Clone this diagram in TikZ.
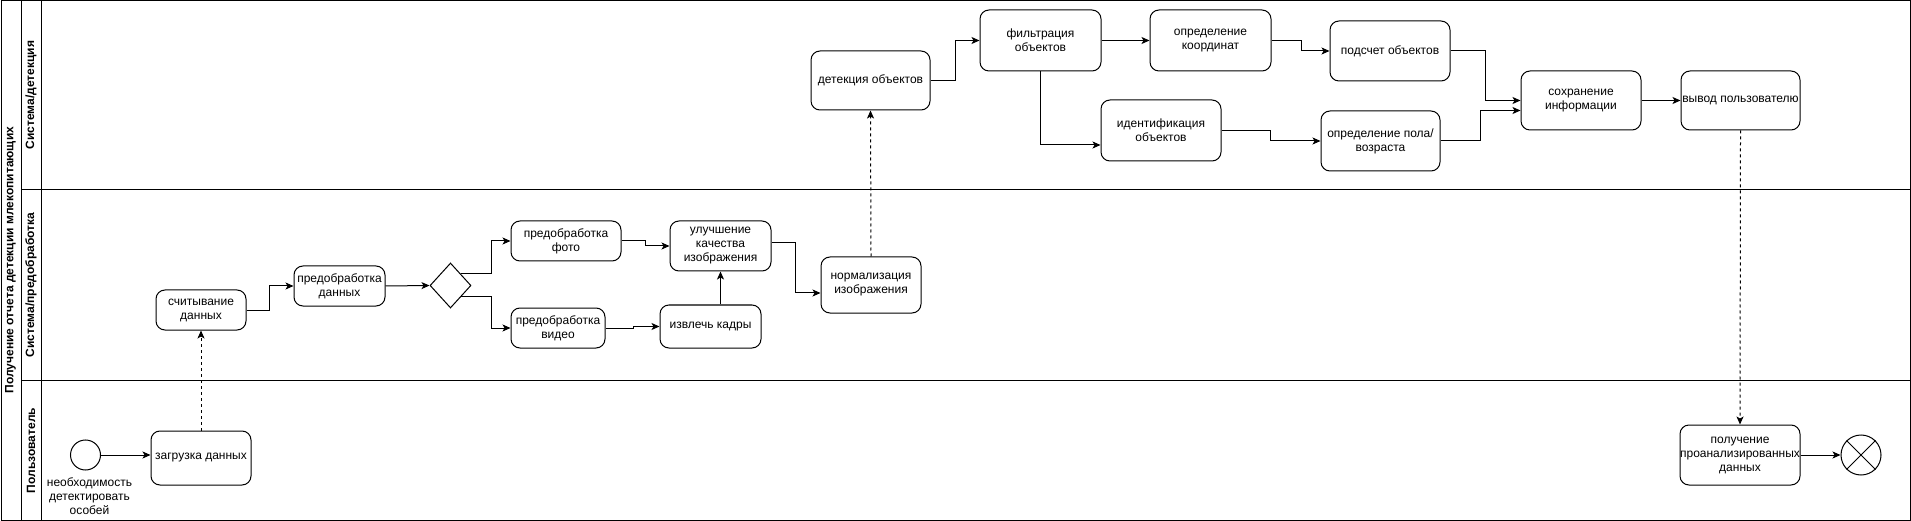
\documentclass[tikz,border=0pt]{standalone}
\usepackage{fontspec}
\setmainfont{Liberation Sans}
\usetikzlibrary{arrows.meta,shapes.geometric,calc}
\begin{document}
\begin{tikzpicture}[x=1pt,y=-1pt,
  every node/.style={font=\fontsize{12}{14}\selectfont},
  task/.style={draw,rounded corners=9pt,line width=1pt,align=center,inner sep=0pt},
  conn/.style={line width=1pt,-{Stealth[length=8pt,width=7pt,inset=2pt]}},
  msg/.style={conn,dash pattern=on 3pt off 3pt},
  frame/.style={line width=1pt},
  lanelbl/.style={rotate=90,font=\bfseries\fontsize{12}{14}\selectfont}]
\useasboundingbox (0,0) rectangle (1911,521);
% pool and lanes
\draw[frame] (1,1) rectangle (1910,520);
\draw[frame] (21,1) -- (21,520);
\draw[frame] (41,1) -- (41,520);
\draw[frame] (21,190) -- (1910,190);
\draw[frame] (21,380) -- (1910,380);
\node[lanelbl] (pool) at (10.5,260) {Получение отчета детекции млекопитающих};
\node[lanelbl] (lane1) at (31,95) {Система/детекция};
\node[lanelbl] (lane2) at (31,285) {Система/предобработка};
\node[lanelbl] (lane3) at (31,450.5) {Пользователь};
% user lane
\node[draw,circle,line width=1pt,minimum size=30pt,inner sep=0pt] (start) at (85.5,455) {};
\node[align=center] (startlbl) at (89.5,496) {необходимость\\детектировать\\особей};
\node[task,minimum width=100pt,minimum height=54pt] (load) at (201,458) {загрузка данных};
\node[task,minimum width=120pt,minimum height=60pt] (recv) at (1740,455) {получение\\проанализированных\\данных};
\node[draw,circle,line width=1pt,minimum size=40pt,inner sep=0pt] (end) at (1861,455) {};
\draw[line width=1pt] (end.north west) -- (end.south east);
\draw[line width=1pt] (end.north east) -- (end.south west);
% preprocessing lane
\node[task,minimum width=90pt,minimum height=40pt] (read) at (201,310) {считывание\\данных};
\node[task,minimum width=91pt,minimum height=40pt] (prep) at (339.5,286) {предобработка\\данных};
\node[draw,diamond,line width=1pt,minimum width=41pt,minimum height=45pt,inner sep=0pt] (gw) at (450.5,285.5) {};
\node[task,minimum width=110pt,minimum height=40pt] (photo) at (566,241) {предобработка\\фото};
\node[task,minimum width=94pt,minimum height=40pt] (video) at (558,328) {предобработка\\видео};
\node[task,minimum width=101pt,minimum height=43pt] (frames) at (710.5,326.5) {извлечь кадры};
\node[task,minimum width=101pt,minimum height=50pt] (enh) at (720.5,246) {улучшение\\качества\\изображения};
\node[task,minimum width=100pt,minimum height=56pt] (norm) at (871,285) {нормализация\\изображения};
% detection lane
\node[task,minimum width=119pt,minimum height=59pt] (det) at (870.5,80.5) {детекция объектов};
\node[task,minimum width=121pt,minimum height=61pt] (filt) at (1040.5,40.5) {фильтрация\\объектов};
\node[task,minimum width=121pt,minimum height=61pt] (coord) at (1210.5,40.5) {определение\\координат};
\node[task,minimum width=120pt,minimum height=60pt] (count) at (1390,51) {подсчет объектов};
\node[task,minimum width=120pt,minimum height=61pt] (ident) at (1161,130.5) {идентификация\\объектов};
\node[task,minimum width=119pt,minimum height=60pt] (sex) at (1380.5,141) {определение пола/\\возраста};
\node[task,minimum width=120pt,minimum height=59pt] (save) at (1581,100.5) {сохранение\\информации};
\node[task,minimum width=119pt,minimum height=59pt] (out) at (1740.5,100.5) {вывод пользователю};
% helper coordinates
\coordinate (gwNE) at ($(gw.north)!0.5!(gw.east)$);
\coordinate (gwSE) at ($(gw.south)!0.5!(gw.east)$);
\coordinate (enhOut) at ($(enh.east)+(0,-3)$);
\coordinate (normIn) at ($(norm.west)+(0,8)$);
\coordinate (identIn) at ($(ident.west)+(0,14.5)$);
\coordinate (saveIn2) at ($(save.west)+(0,10)$);
% connectors
\draw[conn] (start.east) -- (start.east -| load.west);
\draw[msg] (load.north) -- (read.south);
\draw[conn] (read.east) -- ++(23,0) |- (prep.west);
\draw[conn] (prep.east) -- (gw.west);
\draw[conn] (gwNE) -- ++(30,0) |- (photo.west);
\draw[conn] (gwSE) -- ++(30,0) |- (video.west);
\draw[conn] (video.east) -- ++(28,0) |- (frames.west);
\draw[conn] (photo.east) -- ++(24,0) |- (enh.west);
\draw[conn] (enh.south |- frames.north) -- (enh.south);
\draw[conn] (enhOut) -- ++(24,0) |- (normIn);
\draw[msg] (norm.north) -- (det.south);
\draw[conn] (det.east) -- ++(25,0) |- (filt.west);
\draw[conn] (filt.east) -- (coord.west);
\draw[conn] (filt.south) |- (identIn);
\draw[conn] (coord.east) -- ++(30,0) |- (count.west);
\draw[conn] (ident.east) -- ++(49,0) |- (sex.west);
\draw[conn] (count.east) -- ++(35,0) |- (save.west);
\draw[conn] (sex.east) -- ++(40,0) |- (saveIn2);
\draw[conn] (save.east) -- (out.west);
\draw[msg] (out.south) -- (recv.north);
\draw[conn] (recv.east) -- (end.west);
\end{tikzpicture}
\end{document}
